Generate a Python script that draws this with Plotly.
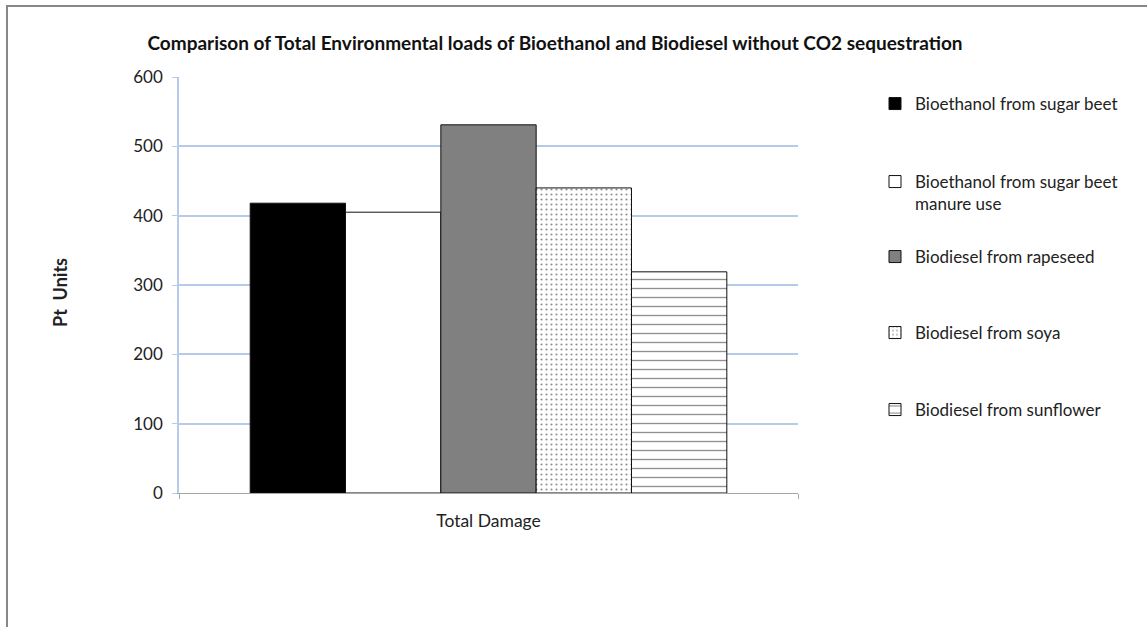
import plotly.graph_objects as go

categories = ["Total Damage"]
series_names = [
    "Bioethanol from sugar beet",
    "Bioethanol from sugar beet<br>manure use",
    "Biodiesel from rapeseed",
    "Biodiesel from soya",
    "Biodiesel from sunflower",
]
series_values = [418, 405, 531, 440, 319]
y_ticks = [0, 100, 200, 300, 400, 500, 600]

fills = ["#000000", "#ffffff", "#808080", "#ffffff", "#ffffff"]
patterns = ["", "", "", ".", "-"]
pattern_sizes = [8, 8, 8, 5, 9]
pattern_sol = [0.2, 0.2, 0.2, 0.15, 0.15]

FONT = "Lato"
W, H = 1147, 627
L, R, T, B = 179, 349, 77, 134
pw, ph = W - L - R, H - T - B


def px_x(x):
    return (x - L) / pw


def px_y(y):
    return (H - B - y) / ph


# vertical centres (px) of each legend entry's text block
legend_centres = [104, 193, 257, 333, 410]

fig = go.Figure()
legend_layout = {}
for i, (name, val) in enumerate(zip(series_names, series_values)):
    lname = "legend" if i == 0 else f"legend{i + 1}"
    fig.add_trace(go.Bar(
        x=categories, y=[val], name=name, legend=lname,
        marker=dict(
            color=fills[i],
            line=dict(color="#111111", width=1),
            pattern=dict(shape=patterns[i], fgcolor="#222222", bgcolor="#ffffff",
                         size=pattern_sizes[i], solidity=pattern_sol[i], fillmode="overlay"),
        ),
    ))
    legend_layout[lname] = dict(
        x=px_x(875), y=px_y(legend_centres[i]), xanchor="left", yanchor="middle",
        font=dict(family=FONT, size=17, color="#222222"), valign="top",
        bgcolor="rgba(0,0,0,0)", borderwidth=0,
    )

fig.update_layout(
    width=W, height=H,
    margin=dict(l=L, r=R, t=T, b=B),
    paper_bgcolor="white", plot_bgcolor="white",
    barmode="group", bargap=0.23, bargroupgap=0,
    font=dict(family=FONT, size=17, color="#222222"),
    title=dict(text="Comparison of Total Environmental loads of Bioethanol and Biodiesel without CO2 sequestration",
               font=dict(family=FONT, size=19, color="#111111", weight="bold"),
               x=555 / W, xanchor="center", y=1 - 43 / H, yanchor="middle"),
    showlegend=True,
    xaxis=dict(type="category", showgrid=False, showline=True, linecolor="#a6a6a6", linewidth=1,
               ticks="outside", tickson="boundaries", ticklen=5, tickcolor="#a6a6a6",
               tickfont=dict(family=FONT, size=17.5, color="#222222"), ticklabelstandoff=12),
    yaxis=dict(range=[0, 600], tickvals=y_ticks, showgrid=True, gridcolor="#b6caea", gridwidth=1.5,
               showline=True, linecolor="#b6caea", linewidth=1.5, ticks="outside", ticklen=5,
               tickcolor="#b6caea", zeroline=False,
               tickfont=dict(family=FONT, size=17, color="#222222"), ticklabelstandoff=6),
    annotations=[dict(text="<b>Pt  Units</b>", textangle=-90, xref="paper", yref="paper",
                      x=px_x(60), y=px_y(293), xanchor="center", yanchor="middle", showarrow=False,
                      font=dict(family=FONT, size=18, color="#222222"))],
    shapes=[dict(type="rect", xref="paper", yref="paper",
                 x0=px_x(7), x1=px_x(W + 20), y0=px_y(H + 20), y1=px_y(6),
                 line=dict(color="#888888", width=2), fillcolor="rgba(0,0,0,0)", layer="below")],
    **legend_layout,
)

fig.write_html("out.html", config={"displayModeBar": False},
               post_script="document.body.style.margin='0';")
